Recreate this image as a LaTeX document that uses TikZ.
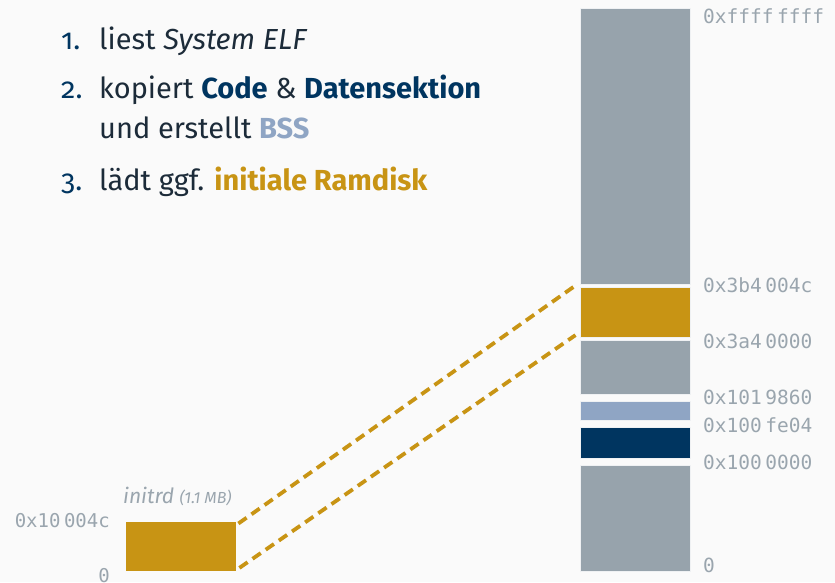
\documentclass[tikz,border=0pt]{standalone}
\usepackage{fontspec}
\setmainfont{Fira Sans}
\newfontfamily\addrfont{DejaVu Sans Mono}
\definecolor{bg}{HTML}{FAFAFA}
\definecolor{txt}{HTML}{1C2B39}
\definecolor{dblue}{HTML}{003560}
\definecolor{lblue}{HTML}{8FA5C4}
\definecolor{gold}{HTML}{C89414}
\definecolor{bargray}{HTML}{97A3AC}
\definecolor{addrgray}{HTML}{9AA5AE}
\newcommand{\sep}{\hspace{3.5pt}}
\tikzset{
  seg/.style={anchor=north west, inner sep=0pt, minimum width=110pt, draw=white!85!bargray, line width=0.6pt},
  addr/.style={anchor=base west, inner sep=0pt, text=addrgray, font=\fontsize{19.5}{20}\selectfont\addrfont},
  laddr/.style={anchor=base east, inner sep=0pt, text=addrgray, font=\fontsize{19}{20}\selectfont\addrfont},
  item/.style={anchor=base west, inner sep=0pt, text=txt, font=\fontsize{29}{32}\selectfont},
  num/.style={anchor=base west, inner sep=0pt, text=dblue, font=\fontsize{29}{32}\selectfont\addfontfeatures{Numbers=OldStyle}}
}
\tikzset{linkline/.style={gold, line width=3.8pt, dash pattern=on 10pt off 6pt}}
\begin{document}
\begin{tikzpicture}[x=1pt,y=-1pt]
\fill[bg] (0,0) rectangle (835,582);
\useasboundingbox (0,0) rectangle (835,582);
% list
\node[num] (n1) at (61,49) {1.};
\node[item] (t1) at (99,49) {liest \textit{System ELF}};
\node[num] (n2) at (61,98) {2.};
\node[item] (t2) at (99,98) {kopiert \textcolor{dblue}{\textbf{Code}} \& \textcolor{dblue}{\textbf{Datensektion}}};
\node[item] (t2b) at (99,138) {und erstellt \textcolor{lblue}{\textbf{BSS}}};
\node[num] (n3) at (61,190) {3.};
\node[item] (t3) at (99,190) {lädt ggf. \textcolor{gold}{\textbf{initiale Ramdisk}}};
% memory bar
\node[seg, fill=bargray, minimum height=276pt] (top) at (579.5,7.5) {};
\node[seg, fill=gold, minimum height=50pt] (gseg) at (579.5,286.5) {};
\node[seg, fill=bargray, minimum height=54pt] (mid) at (579.5,339.5) {};
\node[seg, fill=lblue, minimum height=19pt] (bss) at (579.5,400.5) {};
\node[seg, fill=dblue, minimum height=31pt] (code) at (579.5,427) {};
\node[seg, fill=bargray, minimum height=106pt] (low) at (579.5,464.5) {};
% addresses
\node[addr] (a1) at (703,23) {0xffff\sep ffff};
\node[addr] (a2) at (703,292) {0x3b4\sep 004c};
\node[addr] (a3) at (703,348) {0x3a4\sep 0000};
\node[addr] (a4) at (703,404) {0x101\sep 9860};
\node[addr] (a5) at (703,432) {0x100\sep fe04};
\node[addr] (a6) at (703,469) {0x100\sep 0000};
\node[addr] (a7) at (703,572) {0};
% initrd
\node[anchor=north west, inner sep=0pt, minimum width=110pt, minimum height=49pt, fill=gold] (initrd) at (126,521.5) {};
\node[anchor=base west, inner sep=0pt, text=addrgray] (il) at (123,503) {\fontsize{21}{22}\selectfont\itshape initrd \fontsize{16}{16}\selectfont(1.1 MB)};
\node[laddr] (l1) at (110,527) {0x10\sep 004c};
\node[laddr] (l2) at (110,582) {0};
% connectors
\draw[linkline] ([xshift=2pt,yshift=-2pt]initrd.north east) -- ([xshift=-4pt,yshift=1pt]gseg.north west);
\draw[linkline] ([xshift=3pt,yshift=3pt]initrd.south east) -- ([xshift=-4pt,yshift=2pt]gseg.south west);
\end{tikzpicture}
\end{document}
